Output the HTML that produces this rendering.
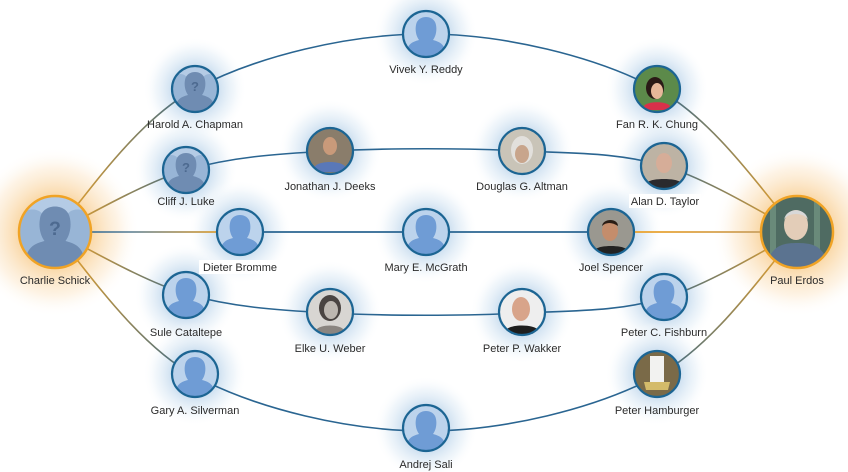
<!DOCTYPE html>
<html><head><meta charset="utf-8"><style>
html,body{margin:0;padding:0;background:#fff;width:848px;height:472px;overflow:hidden}
text{font-family:"Liberation Sans",sans-serif;font-size:11px;fill:#2b2b2b}
</style></head><body>
<svg width="848" height="472" viewBox="0 0 848 472" xmlns="http://www.w3.org/2000/svg">
<defs>
<radialGradient id="gb"><stop offset="0" stop-color="#a9c8e6" stop-opacity="1"/><stop offset="0.45" stop-color="#c6dbee" stop-opacity="0.85"/><stop offset="0.75" stop-color="#e3eef7" stop-opacity="0.5"/><stop offset="1" stop-color="#ffffff" stop-opacity="0"/></radialGradient>
<radialGradient id="go"><stop offset="0" stop-color="#f5b050" stop-opacity="1"/><stop offset="0.45" stop-color="#f9d29a" stop-opacity="0.8"/><stop offset="0.75" stop-color="#fce8cc" stop-opacity="0.5"/><stop offset="1" stop-color="#ffffff" stop-opacity="0"/></radialGradient>
<linearGradient id="eg" gradientUnits="userSpaceOnUse" x1="55" y1="0" x2="798" y2="0">
<stop offset="0" stop-color="#f0a325"/><stop offset="0.2" stop-color="#2a6591"/><stop offset="0.8" stop-color="#2a6591"/><stop offset="1" stop-color="#f0a325"/></linearGradient>
<linearGradient id="mid" gradientUnits="userSpaceOnUse" x1="55" y1="0" x2="798" y2="0">
<stop offset="0" stop-color="#2a6591"/><stop offset="0.1" stop-color="#6b8ca0"/><stop offset="0.24" stop-color="#f0a325"/><stop offset="0.26" stop-color="#2a6591"/><stop offset="0.75" stop-color="#2a6591"/><stop offset="0.77" stop-color="#f0a325"/><stop offset="0.95" stop-color="#c9a060"/><stop offset="1" stop-color="#2a6591"/></linearGradient>
<clipPath id="cc"><circle r="24"/></clipPath>
<clipPath id="pc"><circle cx="797" cy="232" r="36"/></clipPath>
<symbol id="av" viewBox="-24 -24 48 48">
<g clip-path="url(#cc)" stroke="none">
<circle r="24" fill="#bcd3ec"/>
<path d="M-20 24 C-20 10 -14 8 -7 6 C-10 2 -11 -4 -10 -9 C-9 -15 -4 -17 0 -17 C4 -17 9 -15 10 -9 C11 -4 10 2 7 6 C14 8 20 10 20 24 Z" fill="#6f9cd5"/>
</g>
</symbol>
<symbol id="uk" viewBox="-24 -24 48 48">
<g clip-path="url(#cc)" stroke="none">
<circle r="24" fill="#b4cbe5"/>
<path d="M-34 24 C-34 12 -28 9 -22 7 C-25 2 -25 -4 -24 -9 C-22 -14 -18 -15 -15 -15 C-11 -15 -8 -13 -7 -9 L7 -9 C8 -13 11 -15 15 -15 C18 -15 22 -14 24 -9 C25 -4 25 2 22 7 C28 9 34 12 34 24Z" fill="#98b5d6"/>
<path d="M-20 24 C-20 10 -14 8 -7 6 C-10 2 -11 -4 -10 -9 C-9 -15 -4 -17 0 -17 C4 -17 9 -15 10 -9 C11 -4 10 2 7 6 C14 8 20 10 20 24 Z" fill="#6f8cb2"/>
<text x="0" y="2" text-anchor="middle" style="font-size:13px;font-weight:bold;fill:#4d6a90">?</text>
</g>
</symbol>
</defs>

<g>
<circle cx="55" cy="232" r="85" fill="url(#go)"/>
<circle cx="797" cy="232" r="85" fill="url(#go)"/>
<g fill="url(#gb)">
<circle cx="426" cy="34" r="52"/>
<circle cx="195" cy="89" r="52"/>
<circle cx="657" cy="89" r="52"/>
<circle cx="186" cy="170" r="52"/>
<circle cx="330" cy="151" r="52"/>
<circle cx="522" cy="151" r="52"/>
<circle cx="664" cy="166" r="52"/>
<circle cx="240" cy="232" r="52"/>
<circle cx="426" cy="232" r="52"/>
<circle cx="611" cy="232" r="52"/>
<circle cx="186" cy="295" r="52"/>
<circle cx="330" cy="312" r="52"/>
<circle cx="522" cy="312" r="52"/>
<circle cx="664" cy="297" r="52"/>
<circle cx="195" cy="374" r="52"/>
<circle cx="657" cy="374" r="52"/>
<circle cx="426" cy="428" r="52"/>
</g>
</g>

<g fill="none" stroke="url(#eg)" stroke-width="1.6">
<path d="M55 232 C78 208 133 122 195 89 C257 56 349 34 426 34 C503 34 595 56 657 89 C719 122 774 208 798 232"/>
<path d="M55 232 C77 222 140 184 186 170 C232 157 274 154 330 151 C386 148 466 148 522 151 C578 153.5 618 152.5 664 166 C710 179.5 776 221 798 232"/>
<g transform="matrix(1,0,0,-1,0,464)">
<path d="M55 232 C78 208 133 122 195 89 C257 56 349 34 426 34 C503 34 595 56 657 89 C719 122 774 208 798 232" transform="translate(0,-1)"/>
<path d="M55 232 C77 222 140 184 186 170 C232 157 274 154 330 151 C386 148 466 148 522 151 C578 153.5 618 152.5 664 166 C710 179.5 776 221 798 232"/>
</g>
</g>
<line x1="55" y1="232" x2="798" y2="232" stroke="url(#mid)" stroke-width="1.8"/>

<use href="#uk" x="19" y="196" width="72" height="72"/>
<use href="#av" x="402" y="10" width="48" height="48"/>
<use href="#uk" x="171" y="65" width="48" height="48"/>
<use href="#uk" x="162" y="146" width="48" height="48"/>
<use href="#av" x="216" y="208" width="48" height="48"/>
<use href="#av" x="402" y="208" width="48" height="48"/>
<use href="#av" x="162" y="271" width="48" height="48"/>
<use href="#av" x="640" y="273" width="48" height="48"/>
<use href="#av" x="171" y="350" width="48" height="48"/>
<use href="#av" x="402" y="404" width="48" height="48"/>

<g clip-path="url(#pc)">
<rect x="760" y="195" width="76" height="76" fill="#4f6b62"/>
<rect x="770" y="195" width="6" height="76" fill="#6a8a7a"/>
<rect x="814" y="195" width="6" height="76" fill="#6a8a7a"/>
<path d="M765 270 C770 245 783 243 797 243 C812 243 825 245 830 270Z" fill="#5b7390"/>
<ellipse cx="796" cy="225" rx="12" ry="15" fill="#e3cdb8"/>
<path d="M784 220 C786 207 806 207 808 220 C805 212 787 212 784 220Z" fill="#d8d8d8"/>
</g>

<g stroke="none">
<circle cx="657" cy="89" r="23" fill="#5c8a4a"/>
<ellipse cx="655" cy="88" rx="9" ry="11" fill="#2a1a16"/>
<ellipse cx="657" cy="91" rx="6" ry="8" fill="#e6b89a"/>
<path d="M644 106 C647 101 667 101 670 106 L668 110 L646 110Z" fill="#d9304a"/>

<circle cx="330" cy="151" r="23" fill="#8a7d6b"/>
<path d="M314 168 C316 160 344 160 346 168 L340 172 L320 172Z" fill="#5a78b8"/>
<ellipse cx="330" cy="146" rx="7" ry="9" fill="#c99a7a"/>

<circle cx="522" cy="151" r="23" fill="#c9c4b8"/>
<ellipse cx="522" cy="150" rx="11" ry="14" fill="#e2e0dc"/>
<ellipse cx="522" cy="154" rx="7" ry="9" fill="#c8a58c"/>

<circle cx="664" cy="166" r="23" fill="#bdb3a4"/>
<path d="M648 182 C652 178 676 178 680 182 L674 188 L654 188Z" fill="#2a2a2e"/>
<ellipse cx="664" cy="163" rx="8" ry="10" fill="#d6ad98"/>

<circle cx="611" cy="232" r="23" fill="#9a9890"/>
<path d="M596 249 C600 245 622 245 626 249 L620 254 L602 254Z" fill="#222"/>
<ellipse cx="610" cy="231" rx="8" ry="10" fill="#c48d6c"/>
<path d="M602 226 C603 218 618 218 618 226 C612 222 606 222 602 226Z" fill="#2a1d15"/>

<circle cx="330" cy="312" r="23" fill="#d8d6d2"/>
<ellipse cx="330" cy="308" rx="11" ry="13" fill="#4a4441"/>
<ellipse cx="331" cy="310" rx="7" ry="9" fill="#bdb7b0"/>
<path d="M316 330 C320 324 340 324 344 330 L338 334 L322 334Z" fill="#8a8580"/>

<circle cx="522" cy="312" r="23" fill="#eeeeee"/>
<ellipse cx="521" cy="309" rx="9" ry="12" fill="#d8a48a"/>
<path d="M506 330 C510 324 534 324 538 330 L532 334 L512 334Z" fill="#1e1e1e"/>

<circle cx="657" cy="374" r="23" fill="#7a6a48"/>
<rect x="650" y="356" width="14" height="26" fill="#f2f2f0"/>
<path d="M644 382 L670 382 L668 390 L646 390Z" fill="#d4bb6a"/>
</g>

<g fill="none" stroke="#1c6593" stroke-width="2.2">
<circle cx="426" cy="34" r="23"/><circle cx="195" cy="89" r="23"/><circle cx="657" cy="89" r="23"/>
<circle cx="186" cy="170" r="23"/><circle cx="330" cy="151" r="23"/><circle cx="522" cy="151" r="23"/>
<circle cx="664" cy="166" r="23"/><circle cx="240" cy="232" r="23"/><circle cx="426" cy="232" r="23"/>
<circle cx="611" cy="232" r="23"/><circle cx="186" cy="295" r="23"/><circle cx="330" cy="312" r="23"/>
<circle cx="522" cy="312" r="23"/><circle cx="664" cy="297" r="23"/><circle cx="195" cy="374" r="23"/>
<circle cx="657" cy="374" r="23"/><circle cx="426" cy="428" r="23"/>
<circle cx="55" cy="232" r="36" stroke="#f0a325" stroke-width="2.5"/>
<circle cx="797" cy="232" r="36" stroke="#f0a325" stroke-width="2.5"/>
</g>

<g text-anchor="middle">
<text x="426" y="73">Vivek Y. Reddy</text>
<text x="195" y="128">Harold A. Chapman</text>
<text x="657" y="128">Fan R. K. Chung</text>
<text x="186" y="205">Cliff J. Luke</text>
<text x="330" y="190">Jonathan J. Deeks</text>
<text x="522" y="190">Douglas G. Altman</text>
<rect x="629" y="194" width="72" height="14" fill="#fff"/>
<text x="665" y="205">Alan D. Taylor</text>
<text x="55" y="284">Charlie Schick</text>
<rect x="199" y="260" width="82" height="14" fill="#fff"/>
<text x="240" y="271">Dieter Bromme</text>
<text x="426" y="271">Mary E. McGrath</text>
<text x="611" y="271">Joel Spencer</text>
<text x="797" y="284">Paul Erdos</text>
<text x="186" y="336">Sule Cataltepe</text>
<text x="330" y="352">Elke U. Weber</text>
<text x="522" y="352">Peter P. Wakker</text>
<text x="664" y="336">Peter C. Fishburn</text>
<text x="195" y="414">Gary A. Silverman</text>
<text x="657" y="414">Peter Hamburger</text>
<text x="426" y="468">Andrej Sali</text>
</g>
</svg>
</body></html>
